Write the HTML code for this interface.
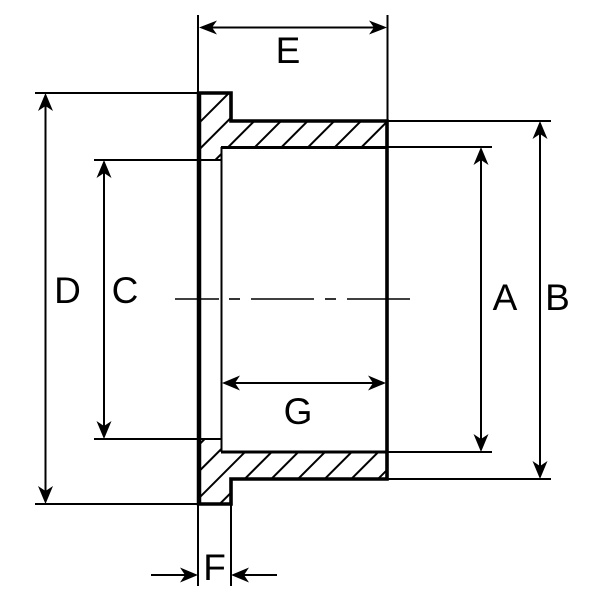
<!DOCTYPE html>
<html>
<head>
<meta charset="utf-8">
<style>
  html,body{margin:0;padding:0;background:#fff;}
  svg{display:block;}
  text{font-family:"Liberation Sans","DejaVu Sans",sans-serif;font-size:37px;fill:#000;}
</style>
</head>
<body>
<svg width="603" height="603" viewBox="0 0 603 603" xmlns="http://www.w3.org/2000/svg">
  <defs>
    <clipPath id="secTop">
      <polygon points="199,93 231,93 231,121 387,121 387,147 221,147 221,160 199,160"/>
    </clipPath>
    <clipPath id="secBot">
      <polygon points="199,439 221,439 221,452 387,452 387,479 231,479 231,504 199,504"/>
    </clipPath>
  </defs>

  <!-- hatch top -->
  <g clip-path="url(#secTop)" stroke="#000" stroke-width="2">
    <line x1="-298" y1="620" x2="322" y2="0"/>
    <line x1="-271.3" y1="620" x2="348.7" y2="0"/>
    <line x1="-244.7" y1="620" x2="375.3" y2="0"/>
    <line x1="-218" y1="620" x2="402" y2="0"/>
    <line x1="-191.3" y1="620" x2="428.7" y2="0"/>
    <line x1="-164.7" y1="620" x2="455.3" y2="0"/>
    <line x1="-138" y1="620" x2="482" y2="0"/>
    <line x1="-111.3" y1="620" x2="508.7" y2="0"/>
    <line x1="-84.7" y1="620" x2="535.3" y2="0"/>
  </g>
  <!-- hatch bottom -->
  <g clip-path="url(#secBot)" stroke="#000" stroke-width="2">
    <line x1="23.7" y1="620" x2="643.7" y2="0"/>
    <line x1="50.3" y1="620" x2="670.3" y2="0"/>
    <line x1="77" y1="620" x2="697" y2="0"/>
    <line x1="103.7" y1="620" x2="723.7" y2="0"/>
    <line x1="130.3" y1="620" x2="750.3" y2="0"/>
    <line x1="157" y1="620" x2="777" y2="0"/>
    <line x1="183.7" y1="620" x2="803.7" y2="0"/>
    <line x1="210.3" y1="620" x2="830.3" y2="0"/>
    <line x1="237" y1="620" x2="857" y2="0"/>
  </g>

  <!-- thin lines -->
  <g stroke="#000" stroke-width="2" fill="none">
    <!-- inner vertical -->
    <line x1="221.5" y1="147" x2="221.5" y2="452"/>
    <!-- extension lines -->
    <line x1="198" y1="15" x2="198" y2="93"/>
    <line x1="387.5" y1="15" x2="387.5" y2="121"/>
    <line x1="35" y1="93" x2="199" y2="93"/>
    <line x1="35" y1="504" x2="199" y2="504"/>
    <line x1="94" y1="160" x2="221" y2="160"/>
    <line x1="94" y1="439" x2="221" y2="439"/>
    <line x1="387" y1="147" x2="492" y2="147"/>
    <line x1="387" y1="452" x2="492" y2="452"/>
    <line x1="387" y1="121" x2="551" y2="121"/>
    <line x1="387" y1="479" x2="551" y2="479"/>
    <line x1="198" y1="504" x2="198" y2="586"/>
    <line x1="231" y1="504" x2="231" y2="586"/>
    <!-- dimension lines -->
    <line x1="205" y1="27.5" x2="381" y2="27.5"/>
    <line x1="45.5" y1="100" x2="45.5" y2="497"/>
    <line x1="104" y1="167" x2="104" y2="432"/>
    <line x1="481" y1="154" x2="481" y2="445"/>
    <line x1="540" y1="128" x2="540" y2="472"/>
    <line x1="228" y1="383" x2="380" y2="383"/>
    <line x1="151" y1="575" x2="190" y2="575"/>
    <line x1="239" y1="575" x2="277" y2="575"/>
  </g>

  <!-- centerline -->
  <g stroke="#000" stroke-width="1.6">
    <line x1="175" y1="299" x2="219" y2="299"/>
    <line x1="229" y1="299" x2="240" y2="299"/>
    <line x1="251" y1="299" x2="314" y2="299"/>
    <line x1="325" y1="299" x2="336" y2="299"/>
    <line x1="347" y1="299" x2="410" y2="299"/>
  </g>

  <!-- thick outline -->
  <path d="M199,93 H231 V121 H387 V479 H231 V504 H199 Z" fill="none" stroke="#000" stroke-width="3.6" stroke-linejoin="miter"/>
  <line x1="199" y1="91.5" x2="199" y2="505.5" stroke="#000" stroke-width="4.5"/>
  <line x1="221" y1="147.5" x2="387" y2="147.5" stroke="#000" stroke-width="3"/>
  <line x1="221" y1="452" x2="387" y2="452" stroke="#000" stroke-width="3"/>

  <!-- arrowheads -->
  <g fill="#000" stroke="none">
    <!-- E -->
    <polygon points="199,27.5 217,20.5 212,27.5 217,34.5"/>
    <polygon points="387,27.5 369,20.5 374,27.5 369,34.5"/>
    <!-- D -->
    <polygon points="45.5,93 38,111 45.5,106 53,111"/>
    <polygon points="45.5,504 38,486 45.5,491 53,486"/>
    <!-- C -->
    <polygon points="104,160 96.5,178 104,173 111.5,178"/>
    <polygon points="104,439 96.5,421 104,426 111.5,421"/>
    <!-- A -->
    <polygon points="481,147 473.5,165 481,160 488.5,165"/>
    <polygon points="481,452 473.5,434 481,439 488.5,434"/>
    <!-- B -->
    <polygon points="540,121 532.5,139 540,134 547.5,139"/>
    <polygon points="540,479 532.5,461 540,466 547.5,461"/>
    <!-- G -->
    <polygon points="222,383 240,375.5 235,383 240,390.5"/>
    <polygon points="386,383 368,375.5 373,383 368,390.5"/>
    <!-- F -->
    <polygon points="198,575 180,567.5 185,575 180,582.5"/>
    <polygon points="231,575 249,567.5 244,575 249,582.5"/>
  </g>

  <!-- labels -->
  <text x="288" y="63" text-anchor="middle">E</text>
  <text x="67.5" y="303" text-anchor="middle">D</text>
  <text x="125" y="303" text-anchor="middle">C</text>
  <text x="505" y="310" text-anchor="middle">A</text>
  <text x="557.5" y="310" text-anchor="middle">B</text>
  <text x="298" y="424" text-anchor="middle">G</text>
  <text x="214.5" y="580" text-anchor="middle">F</text>
</svg>
</body>
</html>
